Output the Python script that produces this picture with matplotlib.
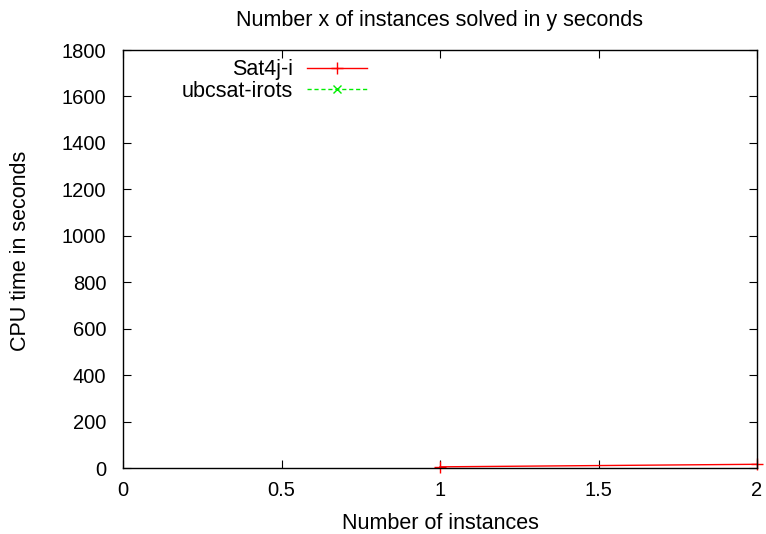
import numpy as np
import matplotlib
matplotlib.use("Agg")
import matplotlib.pyplot as plt

# data
sat4j_x = [1, 2]
sat4j_y = [5, 16]
ubcsat_x = []
ubcsat_y = []

x_ticks = [0, 0.5, 1, 1.5, 2]
x_labels = ["0", "0.5", "1", "1.5", "2"]
y_ticks = [0, 200, 400, 600, 800, 1000, 1200, 1400, 1600, 1800]

plt.rcParams["font.family"] = ["Liberation Sans", "DejaVu Sans"]

fig = plt.figure(figsize=(7.66, 5.34), dpi=100)
ax = fig.add_axes([123 / 766, 1 - 468 / 534, (757 - 123) / 766, (468 - 50) / 534])

ax.plot(sat4j_x, sat4j_y, color="red", linewidth=1, marker="+",
        markersize=8, label="Sat4j-i", clip_on=False)
ax.plot(ubcsat_x, ubcsat_y, color="#00ee00", linewidth=1, linestyle=(0, (3, 2)),
        marker="x", markersize=6, label="ubcsat-irots")

ax.set_xlim(0, 2)
ax.set_ylim(0, 1800)
ax.set_xticks(x_ticks)
ax.set_xticklabels(x_labels)
ax.set_yticks(y_ticks)
ax.tick_params(direction="in", top=True, right=True, length=6, labelsize=14.5)
ax.tick_params(axis="x", pad=9)
ax.tick_params(axis="y", pad=12)
for s in ax.spines.values():
    s.set_linewidth(1)

ax.set_xlabel("Number of instances", fontsize=15.5, labelpad=10)
ax.set_ylabel("CPU time in seconds", fontsize=15.5, labelpad=22)
ax.yaxis.label.set_y(0.519)
ax.set_title("Number x of instances solved in y seconds", fontsize=15.5, pad=17)

leg = ax.legend(loc="upper right", bbox_to_anchor=(0.385, 0.978), frameon=False,
                fontsize=15.5, markerfirst=False, handlelength=2.8,
                handletextpad=0.65, labelspacing=0.02, borderaxespad=0,
                borderpad=0)
for t in leg.get_texts():
    t.set_ha("right")

fig.savefig("out.png", dpi=100)
